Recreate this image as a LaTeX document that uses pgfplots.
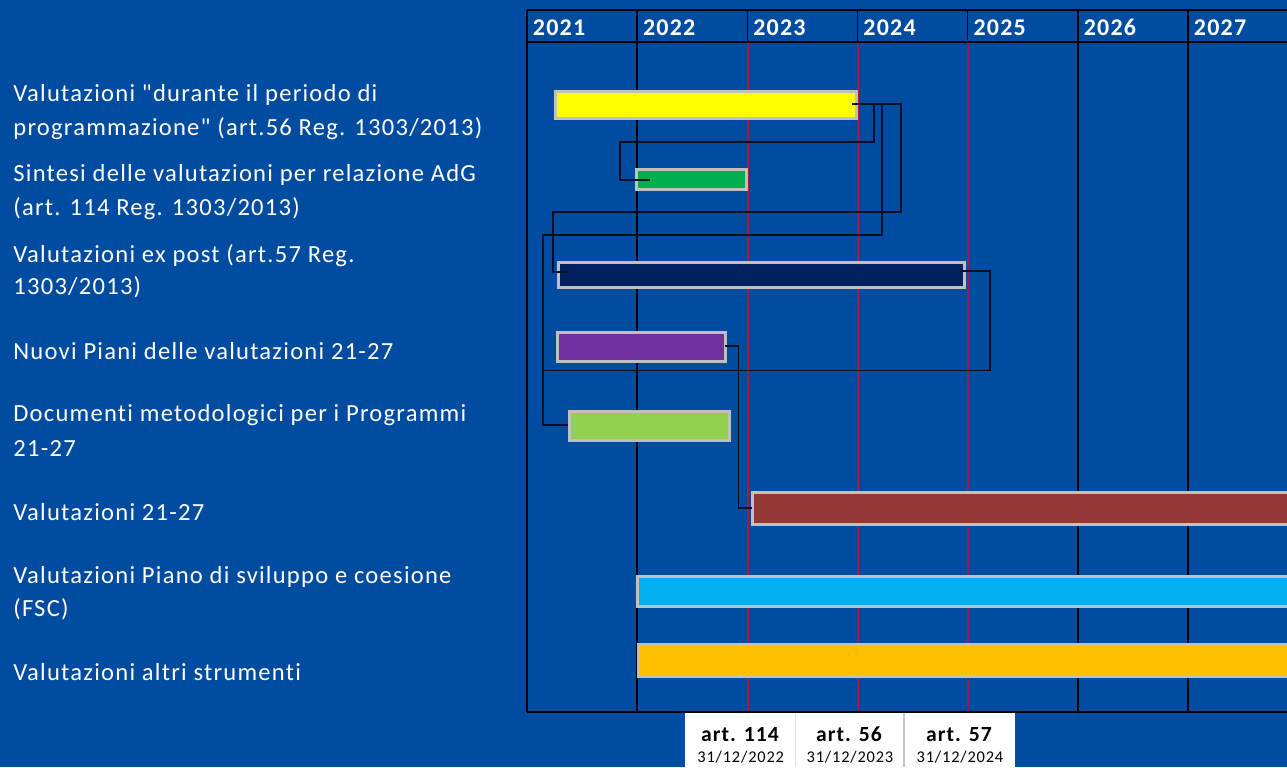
\documentclass[border=0pt]{standalone}
\usepackage{fontspec}
\setmainfont{Carlito}
\newfontfamily\lab{Carlito}[LetterSpace=5, Ligatures={NoCommon}]
\usepackage{pgfplots}
\pgfplotsset{compat=1.18}
\definecolor{bg}{RGB}{0,76,160}
\definecolor{barline}{RGB}{192,192,192}
\definecolor{cyel}{RGB}{255,255,0}
\definecolor{cgrn}{RGB}{0,176,80}
\definecolor{cnavy}{RGB}{0,32,96}
\definecolor{cpurp}{RGB}{112,48,160}
\definecolor{clgrn}{RGB}{146,208,80}
\definecolor{cbrown}{RGB}{149,55,53}
\definecolor{ccyan}{RGB}{0,176,240}
\definecolor{corange}{RGB}{255,192,0}
\definecolor{vlineA}{RGB}{170,25,55}
\definecolor{vlineB}{RGB}{150,30,70}
\definecolor{conn}{RGB}{5,15,35}
\begin{document}
\begin{tikzpicture}
\path[use as bounding box, fill=bg] (0pt,0pt) rectangle (643.5pt,383.5pt);
\begin{axis}[at={(263.5pt,378.5pt)}, anchor=north west,
  width=380pt, height=351pt, scale only axis,
  xmin=2021, xmax=2027.898, ymin=10, ymax=712, y dir=reverse,
  hide axis, clip=false]
% grid lines below header
\addplot[black, line width=0.75pt] coordinates {(2022,42) (2022,712)};
\addplot[vlineA, line width=0.8pt] coordinates {(2023.004,42) (2023.004,712)};
\addplot[vlineA, line width=0.8pt] coordinates {(2024.004,42) (2024.004,712)};
\addplot[vlineB, line width=0.8pt] coordinates {(2025,42) (2025,712)};
\addplot[black, line width=0.75pt] coordinates {(2026,42) (2026,712)};
\addplot[black, line width=0.75pt] coordinates {(2027,42) (2027,712)};
% frame and header
\draw[black, line width=1pt] (axis cs:2021,10) -- (axis cs:2027.898,10);
\draw[black, line width=1pt] (axis cs:2021,42) -- (axis cs:2027.898,42);
\draw[black, line width=1pt] (axis cs:2021,10) -- (axis cs:2021,712);
\draw[black, line width=1pt] (axis cs:2021,712) -- (axis cs:2027.898,712);
\pgfplotsinvokeforeach{2022,...,2027}{
  \draw[black, line width=0.75pt] (axis cs:#1,10) -- (axis cs:#1,42);
}
% year labels
\pgfplotsinvokeforeach{2021,...,2027}{
  \node[anchor=base west, text=white, font=\lab\bfseries\fontsize{12pt}{14pt}\selectfont, inner sep=0pt]
    at (axis cs:#1.05,35) {#1};
}
% bars
\addplot[draw=barline, line width=1.5pt, fill=cyel] coordinates {(2021.263,91) (2023.995,91) (2023.995,118) (2021.263,118)} --cycle;
\addplot[draw=barline, line width=1.5pt, fill=cgrn] coordinates {(2021.998,169) (2022.988,169) (2022.988,189.5) (2021.998,189.5)} --cycle;
\addplot[draw=barline, line width=1.5pt, fill=cnavy] coordinates {(2021.290,262) (2024.967,262) (2024.967,287.5) (2021.290,287.5)} --cycle;
\addplot[draw=barline, line width=1.5pt, fill=cpurp] coordinates {(2021.277,332) (2022.806,332) (2022.806,361) (2021.277,361)} --cycle;
\addplot[draw=barline, line width=1.5pt, fill=clgrn] coordinates {(2021.386,411.5) (2022.834,411.5) (2022.834,440) (2021.386,440)} --cycle;
\addplot[draw=barline, line width=1.5pt, fill=cbrown] coordinates {(2023.047,492) (2027.95,492) (2027.95,524) (2023.047,524)} --cycle;
\addplot[draw=barline, line width=1.5pt, fill=ccyan] coordinates {(2022.003,576.5) (2027.95,576.5) (2027.95,606.5) (2022.003,606.5)} --cycle;
\addplot[draw=barline, line width=1.5pt, fill=corange] coordinates {(2022.012,644.5) (2027.95,644.5) (2027.95,676.5) (2022.012,676.5)} --cycle;
% connectors
\addplot[conn, line width=0.8pt] coordinates {(2023.950,104) (2024.150,104) (2024.150,142) (2021.844,142) (2021.844,180) (2022.116,180)};
\addplot[conn, line width=0.8pt] coordinates {(2023.950,104) (2024.222,104) (2024.222,235) (2021.145,235) (2021.145,425) (2021.372,425)};
\addplot[conn, line width=0.8pt] coordinates {(2023.950,104) (2024.395,104) (2024.395,212) (2021.236,212) (2021.236,272) (2021.363,272)};
\addplot[conn, line width=0.8pt] coordinates {(2024.930,271) (2025.203,271) (2025.203,370.5) (2021.145,370.5)};
\addplot[conn, line width=0.8pt] coordinates {(2022.797,346) (2022.920,346) (2022.920,508) (2023.042,508)};
\end{axis}
\begin{scope}[x=0.5pt,y=0.5pt]
% row labels
\begin{scope}[every node/.style={anchor=base west, text=white, inner sep=0pt, font=\lab\fontsize{12.3pt}{14pt}\selectfont}]
\node at (13,665.5) {Valutazioni "durante il periodo di};
\node at (13,631) {programmazione" (art.56 Reg. 1303/2013)};
\node at (13,585) {Sintesi delle valutazioni per relazione AdG};
\node at (13,551) {(art. 114 Reg. 1303/2013)};
\node at (13,504.5) {Valutazioni ex post (art.57 Reg.};
\node at (13,472) {1303/2013)};
\node at (13,407) {Nuovi Piani delle valutazioni 21-27};
\node at (13,345.3) {Documenti metodologici per i Programmi};
\node at (13,310.3) {21-27};
\node at (13,246) {Valutazioni 21-27};
\node at (13,183.7) {Valutazioni Piano di sviluppo e coesione};
\node at (13,150.3) {(FSC)};
\node at (13,87) {Valutazioni altri strumenti};
\end{scope}
% bottom legend box
\fill[white] (685,0) rectangle (1015,54);
\draw[black!12, line width=0.5pt] (795,0) -- (795,54);
\draw[blue!20!gray!40, line width=0.8pt] (904,0) -- (904,54);
\begin{scope}[every node/.style={anchor=base, text=black, inner sep=0pt}]
\node[font=\lab\bfseries\fontsize{10.8pt}{12pt}\selectfont] at (740,25.3) {art. 114};
\node[font=\lab\bfseries\fontsize{10.8pt}{12pt}\selectfont] at (849,25.3) {art. 56};
\node[font=\lab\bfseries\fontsize{10.8pt}{12pt}\selectfont] at (959,25.3) {art. 57};
\node[font=\lab\fontsize{8.2pt}{10pt}\selectfont] at (740.7,4) {31/12/2022};
\node[font=\lab\fontsize{8.2pt}{10pt}\selectfont] at (850,4) {31/12/2023};
\node[font=\lab\fontsize{8.2pt}{10pt}\selectfont] at (960,4) {31/12/2024};
\end{scope}
\end{scope}
\end{tikzpicture}
\end{document}
